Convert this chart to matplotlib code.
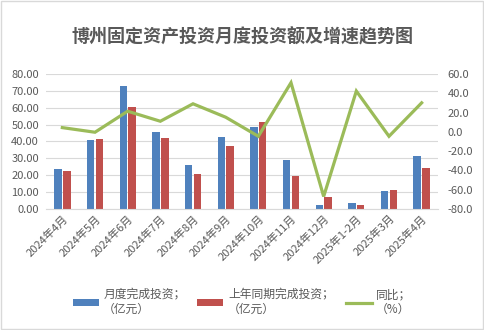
import matplotlib
import matplotlib.pyplot as plt
import numpy as np
from matplotlib.patches import Rectangle

matplotlib.use("agg")
plt.rcParams["font.family"] = ["Noto Sans CJK SC", "DejaVu Sans"]

months = [
    "2024年4月", "2024年5月", "2024年6月", "2024年7月", "2024年8月", "2024年9月",
    "2024年10月", "2024年11月", "2024年12月", "2025年1-2月", "2025年3月", "2025年4月",
]
invest = [23.8, 41.1, 72.8, 45.8, 26.2, 42.9, 48.8, 29.2, 2.4, 3.6, 10.7, 31.5]
invest_last_year = [22.6, 41.7, 60.7, 42.3, 20.8, 37.5, 51.8, 19.6, 7.1, 2.4, 11.3, 24.4]
yoy = [4.4, -0.4, 21.4, 11.0, 29.1, 15.2, -4.6, 51.0, -67.0, 42.3, -4.6, 30.1]

BLUE = "#4F81BD"
RED = "#C0504D"
GREEN = "#9BBB59"
GRID = "#D9D9D9"
TEXT = "#595959"

fig = plt.figure(figsize=(4.84, 3.30), dpi=100)
ax = fig.add_axes([46 / 484, 1 - 209 / 330, 392 / 484, 135 / 330])
ax2 = ax.twinx()

x = np.arange(len(months))
w = 0.23
ax.bar(x - w / 2 - 0.02, invest, w, color=BLUE, label="月度完成投资；\n（亿元）", zorder=2)
ax.bar(x + w / 2 + 0.02, invest_last_year, w, color=RED, label="上年同期完成投资；\n（亿元）", zorder=2)
ax2.plot(x, yoy, color=GREEN, lw=2.3, label="同比；\n（%）", solid_joinstyle="miter")

ax.set_xlim(-0.5, len(months) - 0.5)
ax.set_ylim(0, 80)
ax.set_yticks(np.arange(0, 81, 10))
ax.set_yticklabels([f"{v:.2f}" for v in np.arange(0, 81, 10)])
ax2.set_ylim(-80, 60)
ax2.set_yticks(np.arange(-80, 61, 20))
ax2.set_yticklabels([f"{v:.1f}" for v in np.arange(-80, 61, 20)])

ax.set_xticks(x)
ax.set_xticklabels(months, rotation=45, ha="right", rotation_mode="anchor")
ax.yaxis.grid(True, color=GRID, lw=0.8, zorder=0)
ax.set_axisbelow(True)

for a in (ax, ax2):
    for s in a.spines.values():
        s.set_visible(False)
    a.tick_params(length=0, labelsize=8, colors=TEXT)
ax.spines["bottom"].set_visible(True)
ax.spines["bottom"].set_color(GRID)
ax.tick_params(axis="x", pad=3)
ax.tick_params(axis="y", pad=5)
ax2.tick_params(axis="y", pad=7)

fig.suptitle("博州固定资产投资月度投资额及增速趋势图", y=1 - 37 / 330, va="center",
             fontsize=13, fontweight="bold", color=TEXT)

h1, l1 = ax.get_legend_handles_labels()
h2, l2 = ax2.get_legend_handles_labels()
fig.legend(h1 + h2, l1 + l2, loc="center", bbox_to_anchor=(0.5, 1 - 302 / 330), ncol=3,
           frameon=False, fontsize=8.5, labelcolor=TEXT, handlelength=2.2,
           handleheight=0.5, columnspacing=1.0, handletextpad=0.4)

fig.patches.append(Rectangle((0.002, 0.003), 0.995, 0.994, transform=fig.transFigure,
                             fill=False, edgecolor=GRID, lw=1))

fig.savefig("out.png", dpi=100)
